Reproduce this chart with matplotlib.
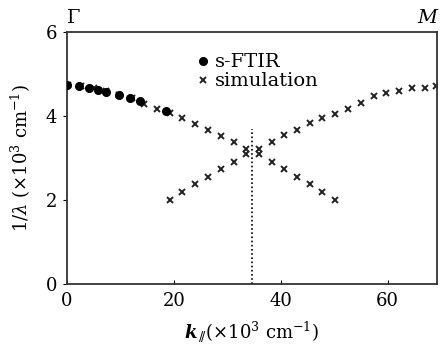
import matplotlib
matplotlib.use('Agg')
import matplotlib.pyplot as plt

# --- data ---
# s-FTIR measurement (dots)
k_ftir = [0.1, 2.2, 4.2, 5.9, 7.4, 9.7, 11.8, 13.7, 18.5]
inv_lam_ftir = [4.74, 4.71, 4.66, 4.63, 4.58, 4.50, 4.44, 4.35, 4.13]

# simulation, band 1 (falls from Gamma, folds down after the crossing)
k_sim1 = [0.2, 2.6, 5.0, 7.4, 9.7, 12.1, 14.5, 16.9, 19.3, 21.6, 24.0,
          26.4, 28.8, 31.2, 33.5, 35.9, 38.3, 40.7, 43.1, 45.4, 47.8, 50.2]
inv_lam_sim1 = [4.73, 4.72, 4.67, 4.60, 4.51, 4.44, 4.30, 4.18, 4.08, 3.96, 3.81,
                3.67, 3.53, 3.39, 3.21, 3.11, 2.91, 2.74, 2.55, 2.38, 2.19, 2.00]

# simulation, band 2 (rises from the lower left to M)
k_sim2 = [19.3, 21.6, 24.0, 26.4, 28.8, 31.2, 33.5, 35.9, 38.3, 40.7, 43.1,
          45.4, 47.8, 50.2, 52.6, 55.0, 57.4, 59.7, 62.1, 64.5, 66.9, 69.1]
inv_lam_sim2 = [2.00, 2.19, 2.38, 2.56, 2.74, 2.91, 3.11, 3.21, 3.39, 3.54, 3.67,
                3.83, 3.95, 4.06, 4.18, 4.32, 4.48, 4.54, 4.60, 4.66, 4.68, 4.72]

k_cross = 34.6       # folding point (dotted line)
cross_top = 3.69

plt.rcParams['font.family'] = ['DejaVu Serif']
plt.rcParams['mathtext.fontset'] = 'dejavuserif'

fig = plt.figure(figsize=(4.43, 3.46), dpi=100)
ax = fig.add_axes([0.151, 0.179, 0.835, 0.728])

ax.plot(k_sim1, inv_lam_sim1, 'x', color='#222222', ms=5, mew=1.4, label='simulation')
ax.plot(k_sim2, inv_lam_sim2, 'x', color='#222222', ms=5, mew=1.4)
ax.plot(k_ftir, inv_lam_ftir, 'o', color='black', ms=5.5, label='s-FTIR', zorder=3)

ax.plot([k_cross, k_cross], [0, cross_top], linestyle=(0, (1, 1.5)), color='black', lw=1.2)

ax.set_xlim(0, 69.2)
ax.set_ylim(0, 6)
ax.set_xticks([0, 20, 40, 60])
ax.set_yticks([0, 2, 4, 6])

for sp in ax.spines.values():
    sp.set_linewidth(1.3)
    sp.set_color('#333333')
ax.tick_params(axis='x', direction='in', length=3, labelsize=13, pad=6)
ax.tick_params(axis='y', direction='out', length=3, labelsize=13, pad=4)

ax.set_xlabel(r'$\mathbfit{k}_{\,/\!/}$(×10$^3$ cm$^{-1}$)', fontsize=13, labelpad=6)
ax.set_ylabel(r'1/$\lambda$ (×10$^3$ cm$^{-1}$)', fontsize=13, labelpad=9)

ax.text(0.0, 6.12, 'Γ', fontsize=14, ha='left', va='bottom')
ax.text(69.2, 6.12, 'M', fontsize=14, style='italic', ha='right', va='bottom')

handles, labels = ax.get_legend_handles_labels()
ax.legend(handles[::-1], labels[::-1], loc='upper left', bbox_to_anchor=(0.315, 0.97),
          frameon=False, fontsize=14, handlelength=0.6, handletextpad=0.3,
          borderpad=0.2, labelspacing=0.05, markerscale=1.0)

fig.savefig('out.png', dpi=100)
